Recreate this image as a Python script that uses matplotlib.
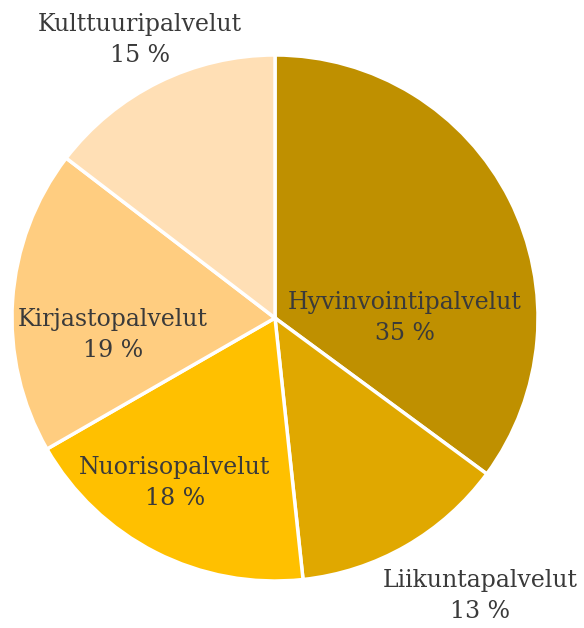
import matplotlib
matplotlib.use("Agg")
import matplotlib.pyplot as plt

categories = ["Hyvinvointipalvelut", "Liikuntapalvelut", "Nuorisopalvelut",
              "Kirjastopalvelut", "Kulttuuripalvelut"]
shares = [35.1, 13.2, 18.4, 18.7, 14.6]
colors = ["#BF9000", "#E0A800", "#FFC000", "#FFCD80", "#FFDFB5"]

# label centres in axes data units (pie radius = 1)
label_pos = [(0.494, 0.0), (0.779, -1.057), (-0.380, -0.627),
             (-0.616, -0.065), (-0.513, 1.057)]

W, H = 584, 628
fig = plt.figure(figsize=(W / 100, H / 100), dpi=100)
cx, cy, r = 275, 318, 263
ax = fig.add_axes([(cx - r) / W, (H - cy - r) / H, 2 * r / W, 2 * r / H])

ax.pie(shares, colors=colors, startangle=90, counterclock=False, radius=1,
       wedgeprops=dict(edgecolor="white", linewidth=2.5))
ax.set_xlim(-1, 1)
ax.set_ylim(-1, 1)
ax.set_aspect("equal")
ax.axis("off")

for name, val, (x, y) in zip(categories, shares, label_pos):
    ax.text(x, y, f"{name}\n{round(val)} %", ha="center", va="center",
            fontsize=17, family="DejaVu Serif", color="#3A3A3A",
            linespacing=1.4, clip_on=False)

fig.savefig("out.png", dpi=100)
